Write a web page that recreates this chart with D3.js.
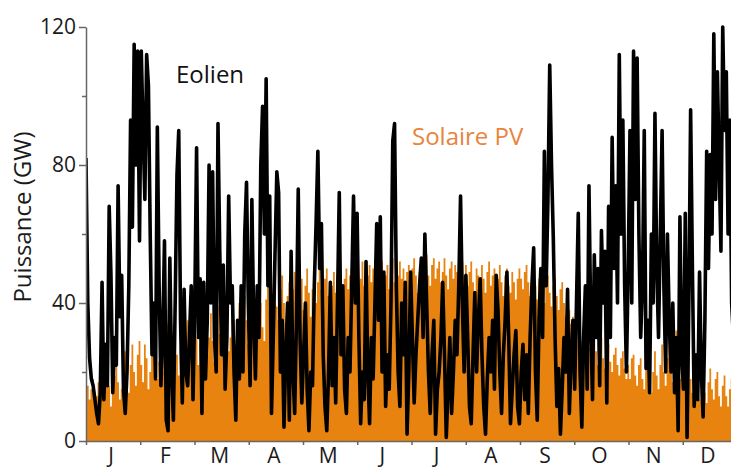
<!DOCTYPE html>
<html>
<head>
<meta charset="utf-8">
<script src="https://cdn.jsdelivr.net/npm/d3@7"></script>
<style>
  body { margin: 0; background: #fff; overflow: hidden; }
  text { font-family: "Open Sans", sans-serif; }
</style>
</head>
<body>
<div id="chart"></div>
<script>
// month labels + y ticks
var months = ["J", "F", "M", "A", "M", "J", "J", "A", "S", "O", "N", "D"];
var yTicks = [0, 40, 80, 120];
var yMinorTicks = [20, 60, 100];

// wind power, one value per day (GW)
var wind = [
  // jan
  82, 40, 24, 18, 16, 12, 8, 5, 14, 46, 12, 28, 16, 68, 48, 14, 30, 22, 74, 36, 48, 15, 8, 20, 45, 93, 62, 115, 80, 113, 58,
  // feb
  113, 90, 70, 112, 103, 60, 25, 40, 18, 91, 45, 16, 30, 58, 6, 3, 53, 20, 6, 40, 77, 90, 35, 11, 44, 20, 16, 30,
  // mar
  45, 12, 40, 85, 30, 47, 8, 46, 18, 35, 80, 40, 78, 30, 20, 92, 55, 25, 51, 15, 30, 71, 40, 45, 20, 6, 35, 18, 45, 20, 60,
  // apr
  75, 40, 16, 70, 35, 18, 45, 30, 80, 97, 60, 105, 45, 71, 8, 30, 55, 78, 72, 20, 35, 4, 25, 40, 6, 55, 20, 8, 35, 73,
  // may
  30, 11, 25, 40, 15, 3, 20, 16, 45, 63, 84, 50, 63, 25, 10, 3, 20, 46, 16, 30, 11, 40, 72, 25, 45, 15, 8, 30, 20, 45, 71,
  // jun
  40, 66, 30, 5, 20, 12, 52, 20, 5, 30, 18, 40, 63, 35, 65, 20, 49, 10, 25, 15, 40, 87, 92, 45, 20, 10, 40, 25, 46, 2,
  // jul
  20, 49, 30, 11, 25, 35, 45, 53, 30, 60, 40, 20, 8, 25, 35, 2, 15, 20, 30, 46, 25, 1, 15, 30, 8, 20, 35, 25, 45, 71, 40,
  // aug
  20, 48, 30, 10, 5, 25, 43, 20, 35, 47, 25, 10, 2, 18, 30, 20, 35, 15, 48, 38, 20, 8, 25, 35, 49, 30, 5, 15, 25, 32, 10,
  // sep
  5, 20, 28, 12, 25, 8, 30, 45, 56, 20, 6, 35, 50, 30, 84, 45, 70, 109, 80, 59, 30, 10, 21, 2, 15, 30, 20, 44, 8, 25,
  // oct
  35, 15, 40, 66, 20, 4, 30, 45, 15, 74, 35, 12, 54, 30, 50, 16, 61, 40, 55, 11, 68, 30, 88, 50, 74, 40, 112, 60, 93, 45, 20,
  // nov
  50, 90, 40, 113, 70, 111, 60, 30, 45, 90, 21, 35, 14, 60, 40, 95, 50, 30, 60, 90, 45, 20, 60, 35, 20, 40, 14, 30, 3, 65,
  // dec
  25, 15, 66, 1, 40, 96, 50, 10, 25, 12, 49, 20, 7, 35, 84, 50, 83, 60, 118, 70, 107, 80, 55, 120, 90, 107, 60, 93, 40, 30, 35
];

// solar PV, daily peak (GW)
var solar = [
  18, 16, 12, 15, 18, 10, 13, 17, 20, 15, 12, 18, 22, 16, 10, 14, 19, 24, 17, 12, 15, 20, 26, 18, 14, 22, 28, 20, 16, 25, 29,
  22, 17, 28, 24, 15, 20, 27, 32, 25, 18, 23, 30, 26, 20, 38, 34, 28, 22, 30, 36, 25, 19, 27, 33, 29, 24, 35, 30,
  26, 32, 38, 30, 22, 28, 35, 40, 33, 25, 30, 37, 29, 23, 34, 39, 31, 27, 36, 42, 33, 26, 30, 38, 35, 28, 34, 40, 36, 30, 42,
  35, 28, 40, 44, 36, 30, 38, 45, 40, 33, 29, 41, 46, 38, 32, 43, 47, 39, 35, 44, 48, 40, 34, 42, 46, 38, 44, 49, 41, 36,
  42, 47, 38, 45, 50, 43, 36, 44, 49, 40, 46, 51, 44, 38, 47, 50, 42, 35, 45, 49, 43, 48, 52, 45, 39, 47, 50, 44, 48, 51, 46,
  44, 49, 42, 47, 52, 45, 40, 48, 51, 46, 50, 53, 47, 42, 49, 52, 45, 48, 51, 44, 50, 53, 46, 41, 48, 52, 47, 50, 45, 49,
  51, 46, 50, 53, 48, 43, 49, 52, 47, 50, 54, 48, 45, 51, 53, 47, 50, 52, 46, 49, 53, 48, 44, 50, 52, 47, 51, 49, 45, 50, 52,
  48, 51, 45, 49, 52, 46, 42, 50, 48, 44, 51, 47, 43, 49, 52, 45, 48, 50, 44, 47, 51, 46, 42, 48, 50, 45, 43, 49, 46, 41, 47,
  50, 47, 44, 49, 51, 46, 42, 48, 50, 45, 41, 47, 49, 44, 40, 46, 48, 43, 39, 45, 47, 42, 38, 44, 46, 40, 36, 42, 38, 34,
  36, 32, 28, 34, 35, 29, 25, 31, 33, 27, 24, 30, 31, 26, 22, 28, 30, 24, 21, 27, 28, 23, 20, 25, 27, 22, 19, 24, 26, 21, 18,
  22, 18, 24, 25, 19, 16, 22, 24, 18, 15, 21, 23, 17, 14, 20, 26, 19, 15, 22, 28, 20, 16, 24, 30, 22, 17, 26, 32, 24, 18,
  28, 20, 16, 22, 25, 18, 14, 20, 22, 16, 12, 18, 20, 14, 11, 17, 21, 15, 12, 18, 20, 13, 10, 16, 19, 13, 10, 15, 18, 12, 14
];

var svgWidth = 731;
var svgHeight = 470;

var svg = d3.select("#chart")
  .append("svg")
  .attr("width", svgWidth)
  .attr("height", svgHeight);

// plot runs a bit past the right edge of the window
var x = d3.scaleLinear().domain([0, 365]).range([86, 737]);
var y = d3.scaleLinear().domain([0, 120]).range([441, 27]);
var monthScale = d3.scaleLinear().domain([0, 12]).range([86, 737]);

svg.append("clipPath")
  .attr("id", "plot")
  .append("rect")
  .attr("x", 86)
  .attr("y", 0)
  .attr("width", 660)
  .attr("height", 441);

// solar area, one step per day
var solarArea = d3.area()
  .curve(d3.curveStep)
  .x((d, i) => x(i))
  .y0(y(0))
  .y1(d => y(d));

svg.append("path")
  .datum(solar)
  .attr("clip-path", "url(#plot)")
  .attr("fill", "#e8830f")
  .attr("d", solarArea);

// wind line
var windLine = d3.line()
  .x((d, i) => x(i))
  .y(d => y(d));

svg.append("path")
  .datum(wind)
  .attr("clip-path", "url(#plot)")
  .attr("fill", "none")
  .attr("stroke", "#000")
  .attr("stroke-width", 3.6)
  .attr("stroke-linejoin", "round")
  .attr("d", windLine);

// y axis
var yAxis = svg.append("g")
  .attr("transform", "translate(86,0)")
  .call(d3.axisLeft(y).tickValues(yTicks).tickSize(7).tickSizeOuter(0).tickPadding(3));

svg.append("g")
  .attr("transform", "translate(86,0)")
  .call(d3.axisLeft(y).tickValues(yMinorTicks).tickSize(4).tickFormat(""))
  .select(".domain").remove();

// x axis (month boundaries)
var xAxis = svg.append("g")
  .attr("transform", "translate(0,441)")
  .call(d3.axisBottom(monthScale).tickValues(d3.range(0, 12)).tickSize(4).tickSizeOuter(0).tickFormat(""));

svg.selectAll(".domain, .tick line")
  .attr("stroke", "#666")
  .attr("stroke-width", 1.5);

yAxis.selectAll("text")
  .attr("font-size", 21)
  .attr("fill", "#1a1a1a")
  .style("font-family", "'Open Sans', sans-serif");

svg.append("g").selectAll("text")
  .data(months)
  .enter()
  .append("text")
  .attr("x", (d, i) => monthScale(i + 0.5) - 2)
  .attr("y", 463)
  .attr("text-anchor", "middle")
  .attr("font-size", 21)
  .attr("fill", "#1a1a1a")
  .text(d => d);

// axis title
svg.append("text")
  .attr("transform", "translate(31,217) rotate(-90)")
  .attr("text-anchor", "middle")
  .attr("font-size", 24)
  .attr("fill", "#1a1a1a")
  .text("Puissance (GW)");

// series labels
svg.append("text")
  .attr("x", 176)
  .attr("y", 83)
  .attr("font-size", 24)
  .attr("fill", "#111")
  .text("Eolien");

svg.append("text")
  .attr("x", 412)
  .attr("y", 145)
  .attr("font-size", 24)
  .attr("fill", "#e8843c")
  .text("Solaire PV");
</script>
</body>
</html>
